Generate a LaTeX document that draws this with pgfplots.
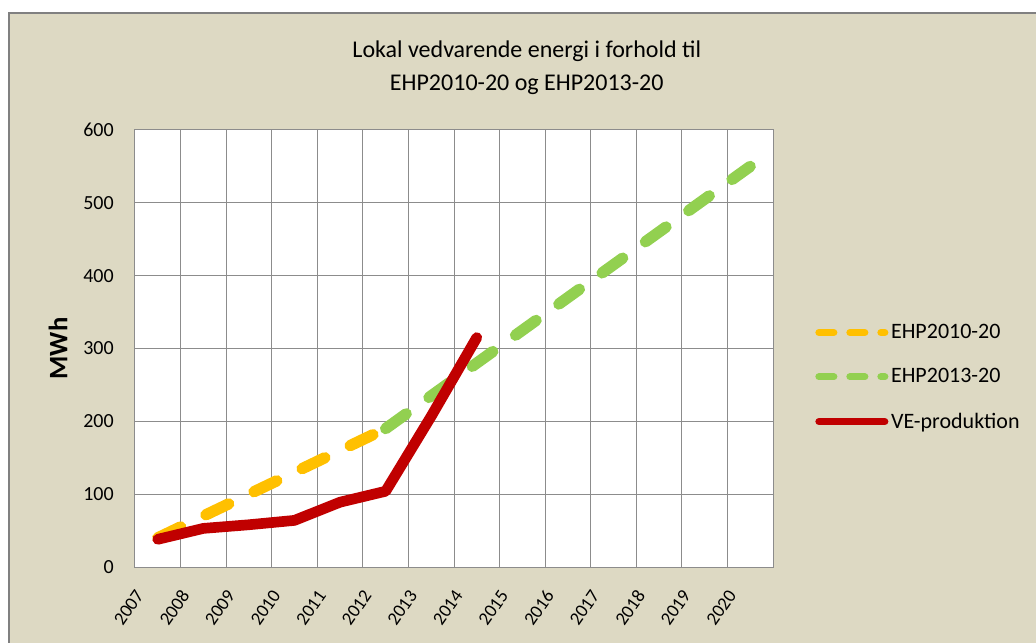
\documentclass[border=0pt]{standalone}
\usepackage{pgfplots}
\pgfplotsset{compat=1.18}
\usepackage{fontspec}
\setmainfont{Carlito}
\definecolor{bgbeige}{HTML}{DDD9C3}
\definecolor{gridgray}{HTML}{8C8C8C}
\definecolor{borderg}{HTML}{808080}
\definecolor{cOrange}{HTML}{FFC000}
\definecolor{cGreen}{HTML}{92D050}
\definecolor{cRed}{HTML}{C00000}
\begin{document}
\begin{tikzpicture}
\fill[white] (0pt,0pt) rectangle (777pt,482.25pt);
\fill[bgbeige] (6pt,0pt) rectangle (777pt,473.25pt);
\draw[borderg, line width=1.5pt] (6.75pt,0pt) -- (6.75pt,472.5pt) -- (777pt,472.5pt);
\begin{axis}[
  at={(101.25pt,57pt)}, anchor=south west,
  scale only axis, width=478.5pt, height=327.75pt,
  xmin=-0.5, xmax=13.5, ymin=0, ymax=600,
  xtick={0,...,13},
  xticklabels={2007,2008,2009,2010,2011,2012,2013,2014,2015,2016,2017,2018,2019,2020},
  minor xtick={0.5,1.5,...,12.5},
  xminorgrids, ymajorgrids,
  ytick={0,100,...,600},
  major tick length=0pt, minor tick length=0pt,
  axis line style={gridgray, line width=0.75pt},
  grid style={gridgray, line width=0.75pt},
  minor grid style={gridgray, line width=0.75pt},
  axis background/.style={fill=white},
  /pgf/number format/assume math mode=true,
  yticklabel style={font=\fontsize{15}{18}\selectfont, inner sep=0pt, anchor=east, xshift=-15.75pt},
  xticklabel style={font=\fontsize{14}{17}\selectfont, inner sep=0pt, anchor=east, rotate=55, xshift=-23.1pt, yshift=0.3pt},
  ylabel={\textbf{MWh}},
  ylabel style={font=\fontsize{20}{24}\selectfont, at={(rel axis cs:-0.1207,0.5)}, anchor=center, rotate=0},
  title={Lokal vedvarende energi i forhold til\\EHP2010-20 og EHP2013-20},
  title style={font=\fontsize{18}{24.75}\selectfont, align=center, at={(rel axis cs:0.614,1.125)}, anchor=center},
  legend style={draw=none, fill=none, at={(rel axis cs:1.066,0.434)}, anchor=west,
    font=\fontsize{16.5}{19}\selectfont, row sep=17pt, inner sep=0pt,
    /tikz/every even column/.append style={column sep=2pt}},
  legend cell align=left,
  clip=false,
]
\addplot[cOrange, line width=8.5pt, line cap=round, dash pattern=on 19pt off 21pt,
  legend image code/.code={\draw[cOrange, line width=5.25pt, line cap=round, dash pattern=on 11.25pt off 12pt] (2.6pt,0pt) -- (52.1pt,0pt);}]
  coordinates {(0,40)(1,70)(2,100)(3,130)(4,160)(5,190)};
\addlegendentry{EHP2010-20}
\addplot[cGreen, line width=8.5pt, line cap=round, dash pattern=on 19pt off 21pt,
  legend image code/.code={\draw[cGreen, line width=5.25pt, line cap=round, dash pattern=on 11.25pt off 12pt] (2.6pt,0pt) -- (52.1pt,0pt);}]
  coordinates {(5,190)(6,235)(7,280)(8,325)(9,370)(10,415)(11,460)(12,505)(13,550)};
\addlegendentry{EHP2013-20}
\addplot[cRed, line width=8pt, line cap=round, line join=round,
  legend image code/.code={\draw[cRed, line width=5.25pt, line cap=round] (2.6pt,0pt) -- (52.1pt,0pt);}]
  coordinates {(0,38)(1,53)(2,58)(3,64)(4,89)(5,104)(6,207)(7,315)};
\addlegendentry{VE-produktion}
\end{axis}
\pgfresetboundingbox
\path (0pt,0pt) rectangle (777pt,482.25pt);
\end{tikzpicture}
\end{document}
